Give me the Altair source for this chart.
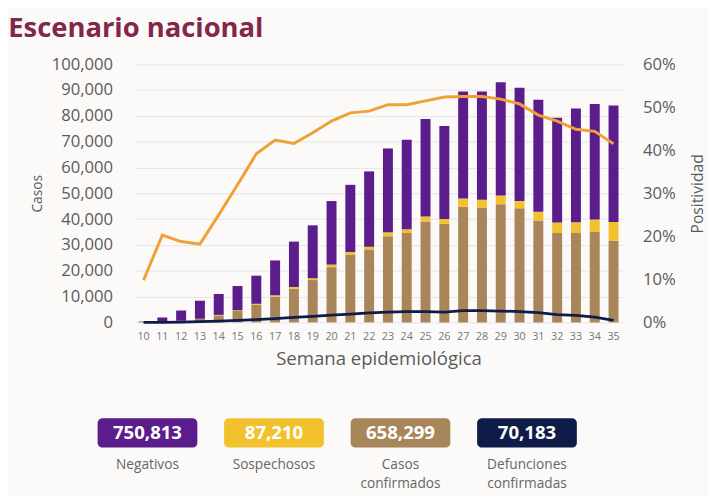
import altair as alt
import pandas as pd

# ---- data ----
semanas = list(range(10, 36))
confirmados = [100, 300, 600, 1300, 2700, 4400, 6800, 10000, 13000, 16400, 21400, 26300, 28300,
               33400, 34600, 39100, 38200, 44800, 44500, 45800, 44200, 39500, 34600, 34600, 35000, 31700]
sospechosos = [10, 30, 50, 100, 200, 300, 400, 500, 700, 700, 1000, 1000, 1000,
               1500, 1500, 1900, 1900, 3200, 3000, 3400, 2800, 3400, 4100, 4200, 4900, 7200]
negativos = [190, 1570, 3950, 7000, 8100, 9400, 10900, 13500, 17600, 20500, 24600, 26000, 29200,
             32500, 34700, 37800, 36000, 41500, 42000, 43800, 43900, 43400, 40600, 44100, 44700, 45100]
defunciones = [0, 20, 100, 300, 500, 800, 1100, 1500, 1900, 2300, 2800, 3200, 3700,
               4000, 4200, 4200, 4000, 4600, 4600, 4400, 4200, 3800, 3000, 2700, 2000, 800]
positividad = [0.098, 0.203, 0.188, 0.182, 0.25, 0.32, 0.392, 0.424, 0.416, 0.441, 0.468, 0.487, 0.491,
               0.506, 0.506, 0.515, 0.524, 0.525, 0.525, 0.519, 0.508, 0.482, 0.468, 0.449, 0.444, 0.415]

series = ["Casos confirmados", "Sospechosos", "Negativos"]
colores = ["#a8865a", "#f2c12e", "#5b1d8b"]

tot_idx = [0, 1, 2, 3]
tot_valores = ["750,813", "87,210", "658,299", "70,183"]
tot_etiquetas = ["Negativos", "Sospechosos", "Casos\nconfirmados", "Defunciones\nconfirmadas"]
tot_colores = ["#5b1d8b", "#f2c12e", "#a8865a", "#0f1c48"]

FONT = "Open Sans"
GRAY = "#5a5a5a"

rows = []
for i, w in enumerate(semanas):
    for k, (name, vals) in enumerate(zip(series, [confirmados, sospechosos, negativos])):
        rows.append({"semana": w, "serie": name, "valor": vals[i], "orden": k})
bars_df = pd.DataFrame(rows)
line_df = pd.DataFrame({"semana": semanas, "defunciones": defunciones, "positividad": positividad})

xenc = alt.X("semana:O",
             scale=alt.Scale(paddingInner=0.47, paddingOuter=0.235),
             axis=alt.Axis(title="Semana epidemiológica", labelAngle=0, labelFontSize=11,
                           labelColor="#777777", titleFontSize=19, titleFontWeight="normal",
                           titleColor=GRAY, titlePadding=9, labelPadding=8,
                           domain=False, ticks=False))

left_axis = alt.Axis(title="Casos", labelExpr="format(datum.value, ',')",
                     values=list(range(0, 100001, 10000)),
                     labelFontSize=17, labelColor=GRAY, titleFontSize=14,
                     titleFontWeight="normal", titleColor=GRAY, titlePadding=7,
                     labelPadding=22, domain=False, ticks=False, grid=True,
                     gridColor="#e4e4e4", gridWidth=1)

bars = alt.Chart(bars_df).mark_bar().encode(
    x=xenc,
    y=alt.Y("sum(valor):Q", scale=alt.Scale(domain=[0, 100000]), stack="zero", axis=left_axis),
    color=alt.Color("serie:N", scale=alt.Scale(domain=series, range=colores), legend=None),
    order=alt.Order("orden:Q", sort="ascending"),
)

deaths = alt.Chart(line_df).mark_line(color="#0f1c48", strokeWidth=2.8).encode(
    x=alt.X("semana:O"),
    y=alt.Y("defunciones:Q", scale=alt.Scale(domain=[0, 100000]), axis=None),
)

pos = alt.Chart(line_df).mark_line(color="#f0a035", strokeWidth=3).encode(
    x=alt.X("semana:O"),
    y=alt.Y("positividad:Q", scale=alt.Scale(domain=[0, 0.6]),
            axis=alt.Axis(title="Positividad", orient="right", format=".0%",
                          values=[0, 0.1, 0.2, 0.3, 0.4, 0.5, 0.6],
                          labelFontSize=17, labelColor=GRAY, titleFontSize=16,
                          titleFontWeight="normal", titleColor=GRAY, titleAngle=270,
                          titlePadding=31, labelPadding=20, domain=False, ticks=False,
                          grid=False)),
)

top = alt.layer(bars, deaths, pos).resolve_scale(y="independent").properties(
    width=500, height=264)

tot_df = pd.DataFrame({"idx": tot_idx, "valor": tot_valores, "etiqueta": tot_etiquetas,
                       "color": tot_colores})
xb = alt.X("idx:Q", scale=alt.Scale(domain=[-0.067, 3.72]), axis=None)
boxes = alt.Chart(tot_df).mark_bar(size=102, cornerRadius=5).encode(
    x=xb, y=alt.value(0), y2=alt.value(30),
    color=alt.Color("color:N", scale=None),
)
nums = alt.Chart(tot_df).mark_text(font=FONT, fontSize=19, fontWeight="bold", color="white").encode(
    x=xb, y=alt.value(15.5), text="valor:N")
labs = alt.Chart(tot_df).mark_text(font=FONT, fontSize=14, color="#666", baseline="top",
                                   lineBreak="\n", lineHeight=19).encode(
    x=xb, y=alt.value(41), text="etiqueta:N")
bottom = alt.layer(boxes, nums, labs).properties(width=500, height=70)

chart = alt.vconcat(top, bottom, spacing=51).properties(
    title=alt.Title("Escenario nacional", anchor="start", fontSize=28, font=FONT,
                    fontWeight="bold", color="#82264a", dx=-23, offset=13),
    padding={"left": 0, "top": 2, "right": 2, "bottom": 0},
    background="#fbfaf9",
).configure(font=FONT, view=alt.ViewConfig(stroke=None))

chart.save("out.html", embed_options={"renderer": "svg", "actions": False})
